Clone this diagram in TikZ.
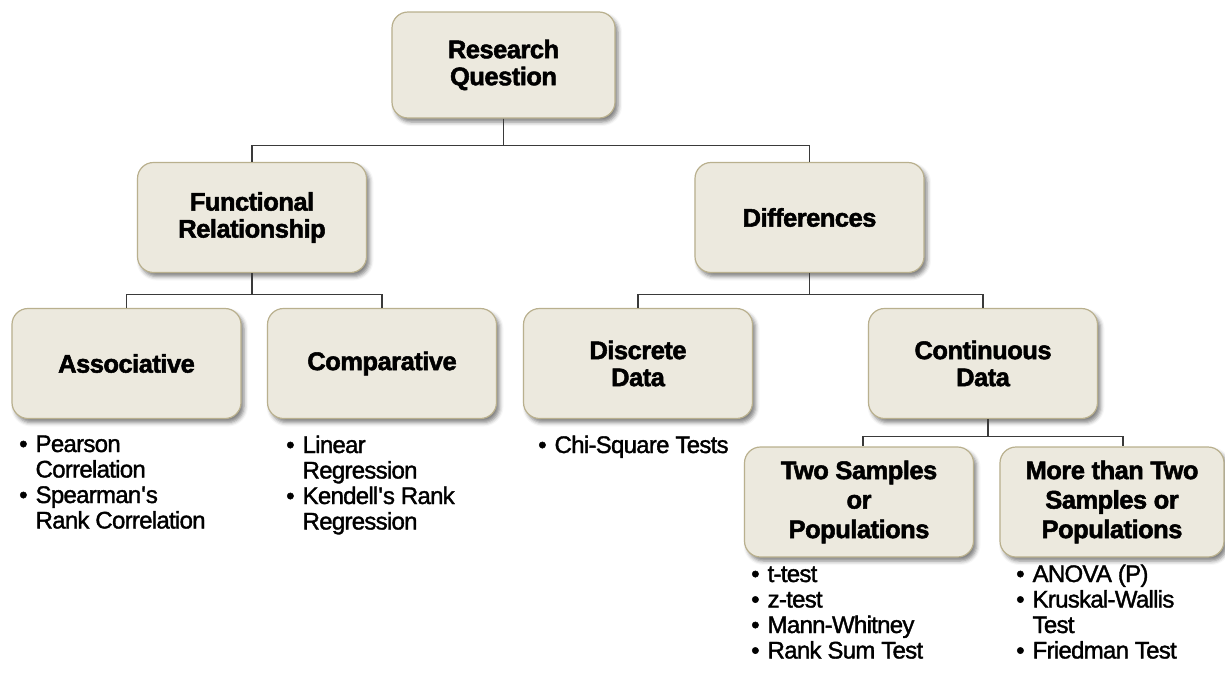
\documentclass[tikz,border=0pt]{standalone}
\usepackage{fontspec}
\setmainfont{Liberation Sans}
\newfontfamily\cardfont{Liberation Sans Bold}[FakeBold=2, LetterSpace=-2]
\newfontfamily\notefont{Liberation Sans}[FakeBold=1.5, LetterSpace=-3]
\usetikzlibrary{shadows.blur, calc}

\definecolor{boxfill}{HTML}{ECE9DE}
\definecolor{boxline}{HTML}{B9B08E}
\definecolor{wirecol}{HTML}{3A3A3A}

\tikzset{
  card/.style={draw=boxline, line width=1.2pt, fill=boxfill, rounded corners=16pt,
    minimum width=229pt, minimum height=110pt, align=center, inner sep=0pt,
    font=\fontsize{25.5}{27}\selectfont\cardfont,
    blur shadow={shadow xshift=3pt, shadow yshift=-4pt, shadow blur radius=4pt, shadow opacity=50}},
  tallcard/.style={card, font=\fontsize{25.5}{29.5}\selectfont\cardfont},
  wire/.style={draw=wirecol, line width=1.1pt},
  notes/.style={anchor=base west, inner sep=0pt, font=\fontsize{24}{25.5}\selectfont\notefont}
}

\begin{document}
\begin{tikzpicture}[x=1pt, y=-1pt]
  \useasboundingbox (0,0) rectangle (1225,675);

  % decision boxes
  \node[card, minimum width=223pt, minimum height=106pt] (rq) at (503.5,65) {Research\\Question};
  \node[card] (fr) at (252,217.5) {Functional\\Relationship};
  \node[card] (df) at (809.5,217.5) {Differences};
  \node[card] (as) at (126.5,363.5) {Associative};
  \node[card] (cp) at (382,363.5) {Comparative};
  \node[card] (dd) at (638,363.5) {Discrete\\Data};
  \node[card] (cd) at (983,363.5) {Continuous\\Data};
  \node[tallcard] (ts) at (859,502) {Two Samples\\or\\Populations};
  \node[tallcard, minimum width=224pt] (mt) at (1112,502) {More than Two\\Samples or\\Populations};

  % elbow connectors
  \draw[wire] (rq.south) -- ++(0,27) -| (fr.north);
  \draw[wire] (rq.south) -- ++(0,27) -| (df.north);
  \draw[wire] (fr.south) -- ++(0,21) -| (as.north);
  \draw[wire] (fr.south) -- ++(0,21) -| (cp.north);
  \draw[wire] (df.south) -- ++(0,21) -| (dd.north);
  \draw[wire] (df.south) -- ++(0,21) -| (cd.north);
  \draw[wire] ($(cd.south)+(5,0)$) -- ++(0,17) -| ($(ts.north)+(4,0)$);
  \draw[wire] ($(cd.south)+(5,0)$) -- ++(0,17) -| ($(mt.north)+(11,0)$);

  % test lists under the leaves
  \node[notes] (asl) at (19,452) {\begin{tabular}[t]{@{}l@{\hspace{8pt}}l@{}}
    •&Pearson\\&Correlation\\•&Spearman\textquotesingle s\\&Rank Correlation\end{tabular}};
  \node[notes] (cpl) at (286,453) {\begin{tabular}[t]{@{}l@{\hspace{8pt}}l@{}}
    •&Linear\\&Regression\\•&Kendell\textquotesingle s Rank\\&Regression\end{tabular}};
  \node[notes] (ddl) at (538,453) {\begin{tabular}[t]{@{}l@{\hspace{8pt}}l@{}}
    •&Chi-Square Tests\end{tabular}};
  \node[notes] (tsl) at (751,582) {\begin{tabular}[t]{@{}l@{\hspace{8pt}}l@{}}
    •&t-test\\•&z-test\\•&Mann-Whitney\\•&Rank Sum Test\end{tabular}};
  \node[notes] (mtl) at (1016,582) {\begin{tabular}[t]{@{}l@{\hspace{8pt}}l@{}}
    •&ANOVA (P)\\•&Kruskal-Wallis\\&Test\\•&Friedman Test\end{tabular}};
\end{tikzpicture}
\end{document}
